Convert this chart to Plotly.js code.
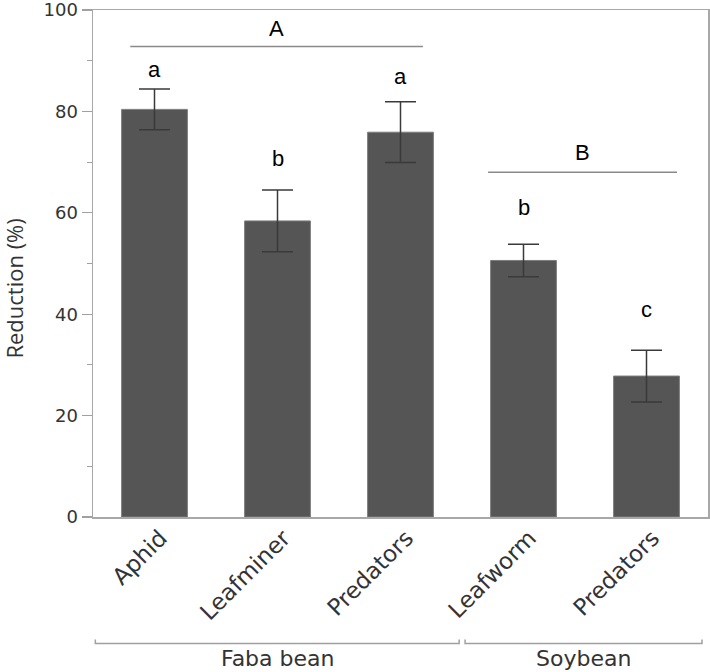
<!DOCTYPE html>
<html>
<head>
<meta charset="utf-8">
<script src="https://cdn.plot.ly/plotly-3.0.1.min.js"></script>
<style>
html,body{margin:0;padding:0;background:#fff;}
#chart{width:710px;height:672px;}
</style>
</head>
<body>
<div id="chart"></div>
<script>
// ---- data ----
const categories = ["Aphid", "Leafminer", "Predators", "Leafworm", "Predators"];
const reduction = [80.4, 58.4, 75.9, 50.6, 27.8];
const errorSE = [4.0, 6.1, 6.0, 3.2, 5.1];
const letters = ["a", "b", "a", "b", "c"];
const letterY = [88.3, 70.8, 86.9, 61.0, 40.9];
const crops = ["Faba bean", "Soybean"];
const groupLetters = ["A", "B"];
const groupLineY = [92.8, 68.0];
const groupLetterY = [96.4, 71.8];
const yTicks = [0, 20, 40, 60, 80, 100];

const xs = categories.map((c, i) => i);

const trace = {
  type: "bar",
  x: xs,
  y: reduction,
  width: 0.535,
  marker: {color: "#555555", line: {color: "#7d7d7d", width: 1}},
  error_y: {type: "data", array: errorSE, visible: true, color: "#3a3a3a", thickness: 1.5, width: 15.5},
  hoverinfo: "skip"
};

const letterFont = {family: "Liberation Sans, Arial, sans-serif", size: 22, color: "#000"};
const annotations = [];
letters.forEach((t, i) => {
  annotations.push({x: xs[i], y: letterY[i], xref: "x", yref: "y", text: t, showarrow: false,
    font: letterFont, xanchor: "center", yanchor: "middle"});
});

const shapes = [];
const gLineX = [[-0.197, 2.182], [2.712, 4.248]];
groupLetters.forEach((t, g) => {
  shapes.push({type: "line", xref: "x", yref: "y", x0: gLineX[g][0], x1: gLineX[g][1], y0: groupLineY[g], y1: groupLineY[g],
    line: {color: "#8a8a8a", width: 1.5}});
  annotations.push({x: (gLineX[g][0] + gLineX[g][1]) / 2, y: groupLetterY[g], xref: "x", yref: "y", text: t, showarrow: false,
    font: letterFont, xanchor: "center", yanchor: "middle"});
});

// crop brackets below the axis
const brLine = -0.2497, brTick = -0.2418, brText = -0.280;
const brX = [[-0.481, 2.477], [2.525, 4.451]];
crops.forEach((c, g) => {
  const a = brX[g][0], b = brX[g][1];
  shapes.push({type: "path", xref: "x", yref: "paper",
    path: `M ${a},${brTick} L ${a},${brLine} L ${b},${brLine} L ${b},${brTick}`,
    line: {color: "#a0a0a0", width: 1.5}});
  annotations.push({x: (a + b) / 2, y: brText, xref: "x", yref: "paper", text: c, showarrow: false,
    font: {family: "DejaVu Sans, sans-serif", size: 22, color: "#333"}, xanchor: "center", yanchor: "middle"});
});

// y-axis title
annotations.push({x: -0.128, y: 0.451, xref: "paper", yref: "paper", text: "Reduction (%)", showarrow: false,
  textangle: -90, font: {family: "Open Sans, sans-serif", size: 22, color: "#333"}, xanchor: "center", yanchor: "middle"});

const layout = {
  width: 710, height: 672,
  margin: {l: 93, r: 2, t: 10, b: 155},
  paper_bgcolor: "#fff", plot_bgcolor: "#fff",
  showlegend: false,
  xaxis: {
    range: [-0.5, 4.5], tickvals: xs, ticktext: categories, tickangle: -45,
    showline: true, mirror: true, linecolor: "#a8a8a8", linewidth: 1.5,
    showgrid: false, zeroline: false, ticks: "",
    ticklabelshift: 6, ticklabelstandoff: -3,
    tickfont: {family: "DejaVu Sans, sans-serif", size: 23, color: "#333"}
  },
  yaxis: {
    range: [0, 100.001], tickmode: "array", tickvals: yTicks, ticktext: yTicks.map(String),
    ticklabeloverflow: "allow",
    showline: true, mirror: true, linecolor: "#a8a8a8", linewidth: 1.5,
    showgrid: false, zeroline: false,
    ticks: "outside", ticklen: 10, tickcolor: "#a0a0a0", tickwidth: 1.2,
    minor: {tickvals: [10, 30, 50, 70, 90], ticks: "outside", ticklen: 5, tickcolor: "#a0a0a0", tickwidth: 1.2, showgrid: false},
    tickfont: {family: "DejaVu Sans, sans-serif", size: 18, color: "#333"}
  },
  shapes: shapes,
  annotations: annotations
};

Plotly.newPlot("chart", [trace], layout, {displayModeBar: false, staticPlot: true});
</script>
</body>
</html>
